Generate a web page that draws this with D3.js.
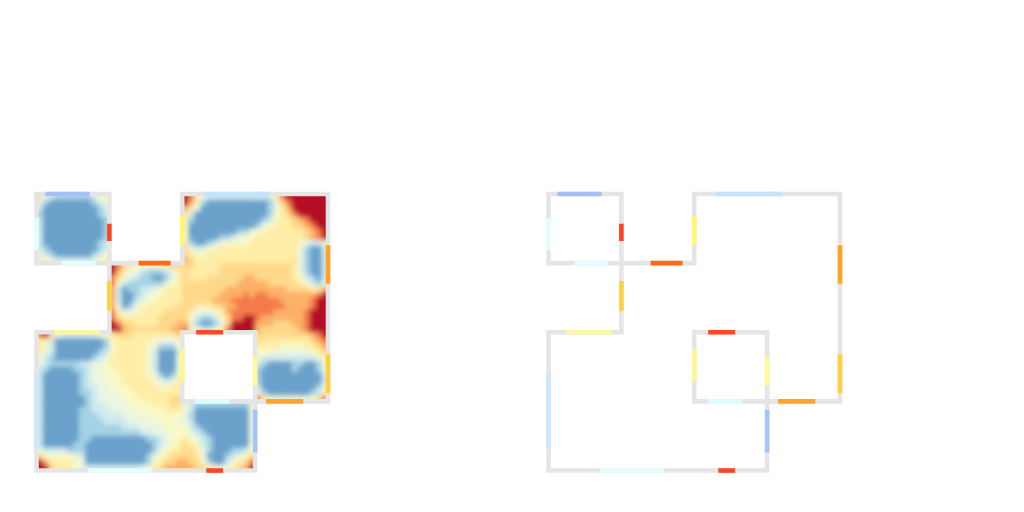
<!DOCTYPE html>
<html>
<head>
<meta charset="utf-8">
<script src="https://cdn.jsdelivr.net/npm/d3@7/dist/d3.min.js"></script>
<style>html,body{margin:0;padding:0;background:#fff}svg{display:block}</style>
</head>
<body>
<svg id="chart" width="1024" height="512"></svg>
<script>
// Occupancy level of each floor cell (0 = lowest, 9 = highest, "." = no floor)
const heatRows = [
"632111111245 ............ 985322222222 222589999999",
"310000000124 ............ 974100000000 001368999999",
"200000000012 ............ 753000000000 001357999999",
"100000000012 ............ 520000000000 001456899999",
"200000000001 ............ 510000000000 012455678999",
"200000000001 ............ 400000000000 134555667899",
"200000000001 ............ 400000000113 445555556789",
"200000000001 ............ 400000112344 555555556789",
"200000000012 ............ 510012344445 555555543225",
"210000000012 ............ 632344555555 555555531002",
"321000000124 ............ 654455555555 555555531002",
"543222222345 ............ 765555555555 555555631002",
"............ 986544444566 665555666666 666666531002",
"............ 975332111235 655555666666 666666531002",
"............ 864321100135 655566666677 666666542102",
"............ 842111111345 666666666777 776666654213",
"............ 720112234555 666666677777 777776666557",
"............ 720012344555 666666777787 887777777789",
"............ 720023445555 666667778888 888877777899",
"............ 730134555556 665556677888 888887777899",
"............ 853345555666 653334578888 888777778999",
"............ 865555556666 642112468899 877777778999",
"............ 986655556667 731001369999 777666778999",
"............ 997666666677 853223589999 766666678999",
"896322222234 566655555556 ............ 666666666789",
"552000000001 455555543334 ............ 655555555678",
"542000000001 455555431114 ............ 555544445567",
"532000000012 455555420002 ............ 444333333456",
"421000000123 555555420003 ............ 322222222235",
"321111122334 555555420003 ............ 210000110014",
"210000112334 455555420003 ............ 100000100013",
"200000012334 445555431014 ............ 100000000002",
"200000012333 445555543235 ............ 100000000002",
"200000012233 444555554455 ............ 200000000013",
"200000011233 344455555555 ............ 310000000125",
"200000001233 334445555566 ............ 853333333468",
"200000001223 333444455566 321111111114 ............",
"200000011222 333344444555 320000000003 ............",
"200000011122 223333444444 310000000003 ............",
"200000011112 222333334443 320000000003 ............",
"200000011111 112223333444 421000000003 ............",
"200000011111 111112233344 432100000003 ............",
"200000011000 000000112344 543210000003 ............",
"200000110000 000000012345 654210000004 ............",
"322221110000 000000013455 665310001124 ............",
"644444320000 000000134566 665300012346 ............",
"975555430000 000000145667 766410024568 ............",
"996555432222 222223456777 776643345679 ............"
];

// Wall outlines in room-grid units
const outerWall = [[0,0],[1,0],[1,1],[2,1],[2,0],[4,0],[4,3],[3,3],[3,4],[0,4],[0,2],[1,2],[1,1],[0,1]];
const innerWall = [[2,2],[3,2],[3,3],[2,3]];

// Coloured wall sections: [orientation, wall line, from, to]
const sectionSpans = [
["h",0,0.12,0.73],["v",0,0.35,0.81],["v",1,0.43,0.68],["h",1,0.35,0.81],["h",1,1.40,1.84],
["v",1,1.26,1.69],["h",2,0.24,0.87],["v",2,0.32,0.73],["h",0,2.30,3.20],["v",4,0.74,1.30],
["h",2,2.19,2.56],["v",2,2.25,2.72],["v",3,2.35,2.77],["h",3,2.18,2.65],["h",3,3.15,3.66],
["v",4,2.31,2.88],["v",3,3.12,3.74],["h",4,2.33,2.56],["v",0,2.585,3.68],["h",4,0.71,1.58]
];
const sectionColors = [
"#a6c0f5","#e0ffff","#ff4422","#e5fdff","#ff6a1a",
"#ffd040","#fff799","#fff870","#c5e3fb","#ffa424",
"#ff4b20","#fff68f","#fff99a","#dcfcff","#ffa424",
"#ffcf40","#a6c4f5","#ff4422","#cde8fb","#e5fdff"
];
const levelTones = [0.82,0.71,0.63,0.565,0.51,0.45,0.39,0.31,0.22,0.03];

const WALL_COLOR = "#e5e5e5", WALL_WIDTH = 4.6;
const panelOffsets = [0, 512];

const svg = d3.select("#chart");
const x = d3.scaleLinear().domain([0,4]).range([36.5,328]);
const y = d3.scaleLinear().domain([0,4]).range([194,470.5]);
const cellX = d3.scaleLinear().domain([0,48]).range([36.5,328]);
const cellY = d3.scaleLinear().domain([0,48]).range([194,470.5]);
const color = v => d3.interpolateRdYlBu(levelTones[v]);

const cells = [];
heatRows.forEach((row,r)=>{
  const s = row.replace(/ /g,"");
  if(s.length!==48) throw new Error("row "+r+" has "+s.length);
  s.split("").forEach((ch,c)=>{ if(ch!==".") cells.push({r,c,v:+ch}); });
});

const line = d3.line().x(d=>x(d[0])).y(d=>y(d[1])).curve(d3.curveLinearClosed);

const defs = svg.append("defs");
defs.append("filter").attr("id","soft")
  .attr("x",0).attr("y",0).attr("width",1).attr("height",1)
  .attr("filterUnits","objectBoundingBox")
  .append("feGaussianBlur").attr("stdDeviation",2.6);
defs.append("clipPath").attr("id","floor")
  .append("path").attr("clip-rule","evenodd")
  .attr("d",line(outerWall)+line(innerWall));

const heatPanel = svg.append("g").attr("clip-path","url(#floor)");
function drawCells(g){
  g.selectAll("rect").data(cells).join("rect")
    .attr("x",d=>cellX(d.c)).attr("y",d=>cellY(d.r))
    .attr("width",cellX(1)-cellX(0)+0.4).attr("height",cellY(1)-cellY(0)+0.4)
    .attr("fill",d=>color(d.v));
}
drawCells(heatPanel.append("g"));
drawCells(heatPanel.append("g").attr("filter","url(#soft)"));

panelOffsets.forEach(dx=>{
  const g = svg.append("g").attr("transform",`translate(${dx},0)`);
  g.selectAll("path.wall").data([outerWall,innerWall]).join("path")
    .attr("class","wall").attr("d",line)
    .attr("fill","none").attr("stroke",WALL_COLOR)
    .attr("stroke-width",WALL_WIDTH).attr("stroke-linejoin","miter");
  g.selectAll("line.section").data(sectionSpans).join("line")
    .attr("class","section")
    .attr("x1",d=>d[0]==="h"?x(d[2]):x(d[1]))
    .attr("x2",d=>d[0]==="h"?x(d[3]):x(d[1]))
    .attr("y1",d=>d[0]==="h"?y(d[1]):y(d[2]))
    .attr("y2",d=>d[0]==="h"?y(d[1]):y(d[3]))
    .attr("stroke",(d,i)=>sectionColors[i])
    .attr("stroke-width",WALL_WIDTH);
});
</script>
</body>
</html>
